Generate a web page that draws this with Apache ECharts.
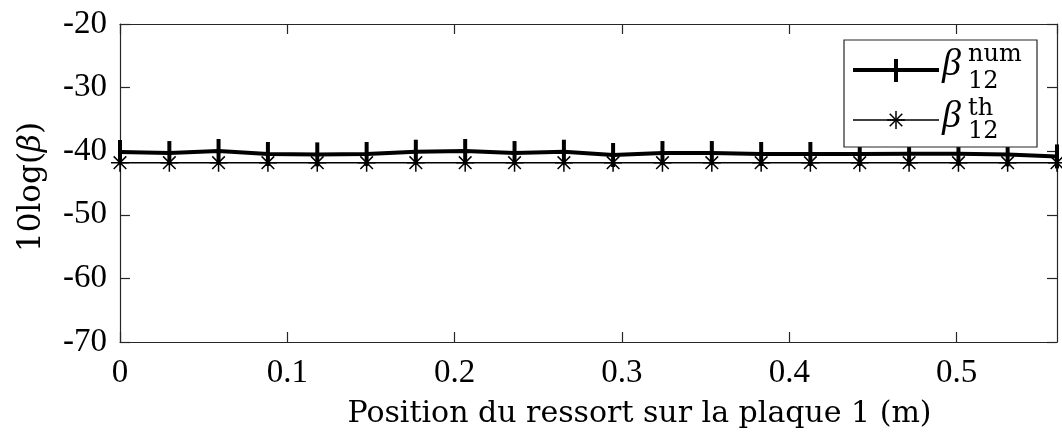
<!DOCTYPE html>
<html><head><meta charset="utf-8">
<script src="https://cdn.jsdelivr.net/npm/echarts@6/dist/echarts.min.js"></script>
<style>html,body{margin:0;padding:0;background:#fff}#c{width:1062px;height:434px}</style>
</head><body><div id="c"></div>
<script>
const positions = [0, 0.0295, 0.0589, 0.0884, 0.1179, 0.1474, 0.1768, 0.2063, 0.2358, 0.2653, 0.2947, 0.3242, 0.3537, 0.3832, 0.4126, 0.4421, 0.4716, 0.5011, 0.5305, 0.56];
const betaNum = [-40.13, -40.29, -39.97, -40.44, -40.5, -40.44, -40.08, -39.97, -40.29, -40.08, -40.6, -40.29, -40.29, -40.44, -40.44, -40.44, -40.4, -40.4, -40.5, -40.82];
const betaTh = [-41.8, -41.8, -41.8, -41.8, -41.8, -41.8, -41.8, -41.8, -41.8, -41.8, -41.8, -41.8, -41.8, -41.8, -41.8, -41.8, -41.8, -41.8, -41.8, -41.8];
const yTicks = { min: -70, max: -20, interval: 10 };
const xTicks = { min: 0, max: 0.56, interval: 0.1 };

const FONT = '"Liberation Serif", "DejaVu Serif", serif';
const NFONT = '"DejaVu Serif", serif';
const AX = '#262626';
const plusPath = 'path://M-2,-11L2,-11L2,11L-2,11Z';
const starPath = 'path://M0,-10L0,10M-10,0L10,0M-7,-7L7,7M-7,7L7,-7';

const chart = echarts.init(document.getElementById('c'), null, { renderer: 'canvas' });
const axisLine = () => ({ show: true, onZero: false, lineStyle: { color: AX, width: 1.2 } });
const axisTick = () => ({ show: true, inside: true, length: 10, lineStyle: { color: AX, width: 1.2 } });
const zip = (a, b) => a.map((v, i) => [v, b[i]]);
const seg = (x1, y1, x2, y2, w) => ({ type: 'line', shape: { x1, y1, x2, y2 }, style: { stroke: '#000', lineWidth: w }, z: 101 });
const txt = (x, y, t, font) => ({ type: 'text', x, y, style: { text: t, font, fill: '#000', verticalAlign: 'middle' }, z: 101 });

chart.setOption({
  animation: false,
  backgroundColor: '#fff',
  grid: { left: 120, right: 5, top: 24, bottom: 91, containLabel: false },
  xAxis: [{
    type: 'value', min: xTicks.min, max: xTicks.max, interval: xTicks.interval,
    position: 'bottom', axisLine: axisLine(), axisTick: axisTick(), splitLine: { show: false },
    axisLabel: { fontFamily: FONT, fontSize: 33, color: '#000', margin: 15, showMaxLabel: false },
    name: 'Position du ressort sur la plaque 1 (m)', nameLocation: 'middle', nameGap: 57,
    nameTextStyle: { fontFamily: NFONT, fontSize: 30, color: '#000', padding: [0, 0, 0, 102] }
  }, {
    type: 'value', min: xTicks.min, max: xTicks.max, interval: xTicks.interval,
    position: 'top', axisLine: axisLine(), axisTick: axisTick(), axisLabel: { show: false }, splitLine: { show: false }
  }],
  yAxis: [{
    type: 'value', min: yTicks.min, max: yTicks.max, interval: yTicks.interval,
    position: 'left', axisLine: axisLine(), axisTick: axisTick(), splitLine: { show: false },
    axisLabel: { fontFamily: FONT, fontSize: 33, color: '#000', margin: 13 },
    name: '10log({i|β})', nameLocation: 'middle', nameGap: 73,
    nameTextStyle: { fontFamily: NFONT, fontSize: 31, color: '#000', padding: [0, 8, 0, 0],
      rich: { i: { fontFamily: NFONT, fontSize: 31, fontStyle: 'italic', color: '#000' } } }
  }, {
    type: 'value', min: yTicks.min, max: yTicks.max, interval: yTicks.interval,
    position: 'right', axisLine: axisLine(), axisTick: axisTick(), axisLabel: { show: false }, splitLine: { show: false }
  }],
  series: [{
    name: 'num', type: 'line', data: zip(positions, betaNum),
    lineStyle: { color: '#000', width: 4 },
    symbol: plusPath, symbolSize: [4, 24], showAllSymbol: true,
    itemStyle: { color: '#000' }, z: 3
  }, {
    name: 'th', type: 'line', data: zip(positions, betaTh),
    lineStyle: { color: '#000', width: 1.5 },
    symbol: starPath, symbolSize: 18, showAllSymbol: true,
    itemStyle: { color: 'rgba(0,0,0,0)', borderColor: '#000', borderWidth: 1.5 }, z: 4
  }],
  graphic: [
    { type: 'rect', shape: { x: 844, y: 40, width: 193, height: 107 },
      style: { fill: '#fff', stroke: AX, lineWidth: 1.2 }, z: 100 },
    seg(853, 70, 939, 70, 4),
    { type: 'rect', shape: { x: 894, y: 59, width: 4, height: 23 }, style: { fill: '#000' }, z: 101 },
    seg(853, 120, 939, 120, 1.5),
    seg(896, 111, 896, 129, 1.5),
    seg(887, 120, 905, 120, 1.5),
    seg(889.7, 113.7, 902.3, 126.3, 1.5),
    seg(889.7, 126.3, 902.3, 113.7, 1.5),
    txt(942, 65, 'β', 'italic 38px ' + FONT),
    txt(968, 55, 'num', '24px ' + NFONT),
    txt(968, 82, '12', '24px ' + NFONT),
    txt(942, 117, 'β', 'italic 38px ' + FONT),
    txt(968, 109, 'th', '24px ' + NFONT),
    txt(968, 132, '12', '24px ' + NFONT)
  ]
});
</script></body></html>
